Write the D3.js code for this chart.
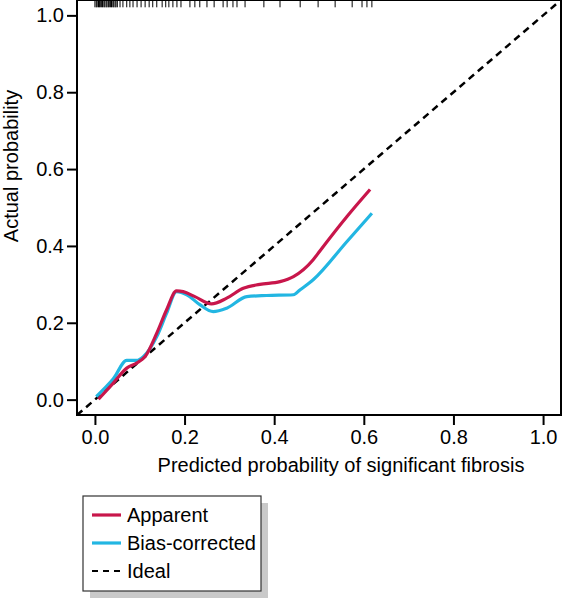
<!DOCTYPE html>
<html>
<head>
<meta charset="utf-8">
<script src="https://cdn.jsdelivr.net/npm/d3@7"></script>
<style>
  html, body { margin: 0; padding: 0; background: #fff; }
  svg { display: block; }
  text { font-family: "Liberation Sans", Arial, Helvetica, sans-serif; fill: #000; }
</style>
</head>
<body>
<svg id="chart" width="563" height="599"></svg>
<script>
// ---- data ----
const xTicks = [0, 0.2, 0.4, 0.6, 0.8, 1.0];
const yTicks = [0, 0.2, 0.4, 0.6, 0.8, 1.0];

const apparentX = [0.008, 0.041, 0.071, 0.093, 0.112, 0.138, 0.160, 0.182, 0.197, 0.223, 0.260, 0.294, 0.331, 0.368, 0.413, 0.443, 0.487, 0.502, 0.562, 0.614];
const apparentY = [0.001, 0.043, 0.082, 0.095, 0.112, 0.173, 0.234, 0.283, 0.281, 0.268, 0.249, 0.264, 0.290, 0.300, 0.307, 0.320, 0.364, 0.387, 0.476, 0.547];

const biasX = [0.003, 0.041, 0.071, 0.093, 0.108, 0.138, 0.160, 0.182, 0.205, 0.234, 0.264, 0.294, 0.339, 0.383, 0.443, 0.458, 0.487, 0.562, 0.618];
const biasY = [0.008, 0.054, 0.102, 0.102, 0.112, 0.164, 0.225, 0.281, 0.273, 0.247, 0.229, 0.238, 0.268, 0.271, 0.273, 0.286, 0.312, 0.411, 0.485];

const rugValues = [0.000, 0.003, 0.005, 0.008, 0.010, 0.012, 0.015, 0.017, 0.020, 0.022, 0.025, 0.027, 0.030, 0.032, 0.035, 0.037, 0.040, 0.042, 0.045, 0.047, 0.050,
  0.056, 0.0625, 0.071, 0.078, 0.085, 0.094, 0.103, 0.112, 0.121, 0.129, 0.138, 0.150, 0.158, 0.165, 0.174, 0.183, 0.192,
  0.212, 0.223, 0.234, 0.250, 0.266, 0.286, 0.295, 0.308, 0.317, 0.335, 0.377, 0.413, 0.458, 0.498, 0.536, 0.574, 0.596, 0.607, 0.618];

const legendLabels = ["Apparent", "Bias-corrected", "Ideal"];
const xTitle = "Predicted probability of significant fibrosis";
const yTitle = "Actual probability";

// ---- drawing ----
const svg = d3.select("#chart");
const colRed = "#c8164b", colBlue = "#22b6e2";
const x = d3.scaleLinear().domain([-0.04, 1.04]).range([77, 561]);
const y = d3.scaleLinear().domain([-0.04, 1.04]).range([415, 0]);

svg.append("defs").append("clipPath").attr("id", "plotclip")
  .append("rect").attr("x", x(-0.04)).attr("y", y(1.04)).attr("width", x(1.04) - x(-0.04)).attr("height", y(-0.04) - y(1.04));

const plot = svg.append("g").attr("clip-path", "url(#plotclip)");

// ideal line
plot.append("line")
  .attr("x1", x(-0.04)).attr("y1", y(-0.04)).attr("x2", x(1.04)).attr("y2", y(1.04))
  .attr("stroke", "#000").attr("stroke-width", 2.5).attr("stroke-dasharray", "7,5");

// rug
plot.selectAll("line.rug").data(rugValues).enter().append("line")
  .attr("class", "rug")
  .attr("x1", d => x(d)).attr("x2", d => x(d))
  .attr("y1", y(1.04)).attr("y2", y(1.021))
  .attr("stroke", "#000").attr("stroke-width", 1);

const line = d3.line().x(d => x(d[0])).y(d => y(d[1])).curve(d3.curveMonotoneX);
const bias = biasX.map((v, i) => [v, biasY[i]]);
const app = apparentX.map((v, i) => [v, apparentY[i]]);

plot.append("path").attr("d", line(bias)).attr("fill", "none").attr("stroke", colBlue).attr("stroke-width", 3.2);
plot.append("path").attr("d", line(app)).attr("fill", "none").attr("stroke", colRed).attr("stroke-width", 3.2);

// axes
const xAxis = svg.append("g").attr("transform", `translate(0,${y(-0.04)})`)
  .call(d3.axisBottom(x).tickValues(xTicks).tickFormat(d3.format(".1f")).tickSize(10).tickPadding(5));
const yAxis = svg.append("g").attr("transform", `translate(${x(-0.04)},0)`)
  .call(d3.axisLeft(y).tickValues(yTicks).tickFormat(d3.format(".1f")).tickSize(10).tickPadding(3));
[xAxis, yAxis].forEach(g => {
  g.select(".domain").remove();
  g.selectAll(".tick line").attr("stroke", "#000").attr("stroke-width", 2);
  g.selectAll(".tick text").style("font-size", "20px").attr("fill", "#000")
    .style("font-family", "'Liberation Sans', Arial, sans-serif");
});

// box
svg.append("rect")
  .attr("x", x(-0.04)).attr("y", y(1.04)).attr("width", x(1.04) - x(-0.04)).attr("height", y(-0.04) - y(1.04))
  .attr("fill", "none").attr("stroke", "#000").attr("stroke-width", 2);

// titles
svg.append("text").attr("x", 341).attr("y", 472).attr("text-anchor", "middle")
  .style("font-size", "20px").text(xTitle);
svg.append("text").attr("transform", "translate(18,166) rotate(-90)").attr("text-anchor", "middle")
  .style("font-size", "20px").text(yTitle);

// legend
const lg = svg.append("g");
lg.append("rect").attr("x", 90).attr("y", 503).attr("width", 178).attr("height", 95).attr("fill", "#c9c9c9");
lg.append("rect").attr("x", 83).attr("y", 496).attr("width", 178).attr("height", 95)
  .attr("fill", "#fff").attr("stroke", "#333").attr("stroke-width", 1.2);
const legendStyles = [
  { color: colRed, dash: null, w: 3.2 },
  { color: colBlue, dash: null, w: 3.2 },
  { color: "#000", dash: "6,5", w: 2 }
];
legendLabels.forEach((lab, i) => {
  const yy = 515 + i * 28;
  lg.append("line").attr("x1", 92).attr("x2", 121).attr("y1", yy).attr("y2", yy)
    .attr("stroke", legendStyles[i].color).attr("stroke-width", legendStyles[i].w)
    .attr("stroke-dasharray", legendStyles[i].dash);
  lg.append("text").attr("x", 127).attr("y", yy + 7).style("font-size", "20px").text(lab);
});
</script>
</body>
</html>
